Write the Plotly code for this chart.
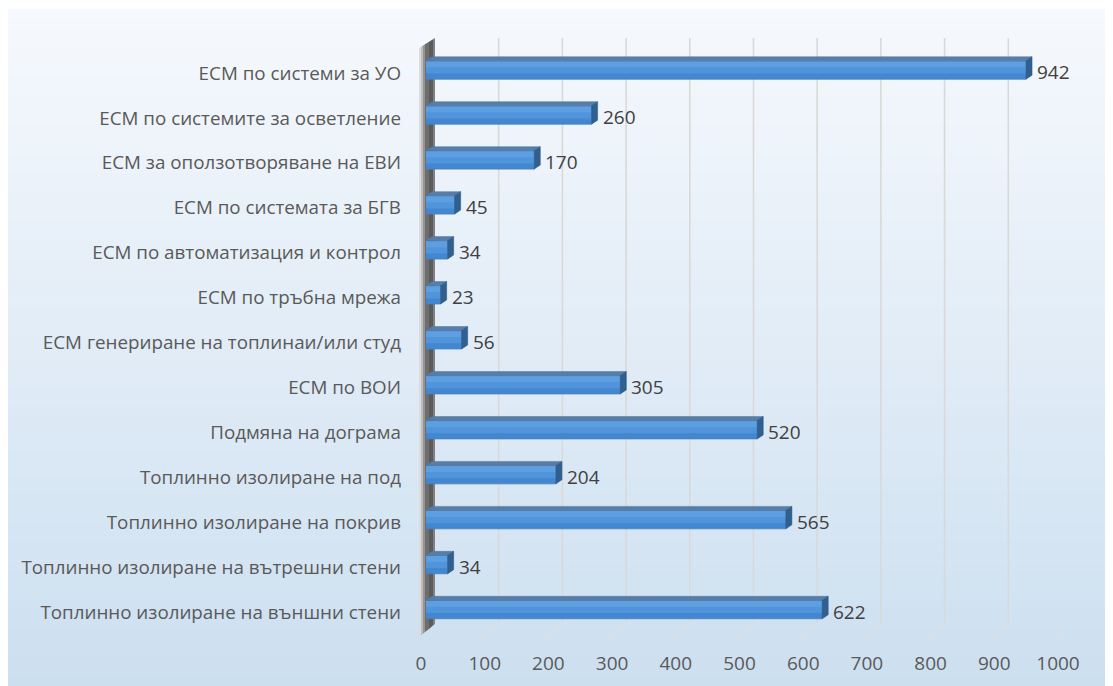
import plotly.graph_objects as go

# ---------------- data ----------------
categories = [
    "Топлинно изолиране на външни стени",
    "Топлинно изолиране на вътрешни стени",
    "Топлинно изолиране на покрив",
    "Топлинно изолиране на под",
    "Подмяна на дограма",
    "ЕСМ по ВОИ",
    "ЕСМ генериране на топлинаи/или студ",
    "ЕСМ по тръбна мрежа",
    "ЕСМ по автоматизация и контрол",
    "ЕСМ по системата за БГВ",
    "ЕСМ за оползотворяване на ЕВИ",
    "ЕСМ по системите за осветление",
    "ЕСМ по системи за УО",
]
values = [622, 34, 565, 204, 520, 305, 56, 23, 34, 45, 170, 260, 942]
x_ticks = [0, 100, 200, 300, 400, 500, 600, 700, 800, 900, 1000]

# ---------------- geometry helpers ----------------
# page body has an 8px margin, so the figure starts at (8, 8) of the window
OFF = 8
W, H = 1113 - OFF, 686 - OFF
def px(x):
    return (x - OFF) / W
def py(y):
    return (H - (y - OFF)) / H

X0_PIX, X1000_PIX = 426, 1063
xscale = (X1000_PIX - X0_PIX) / 1000.0     # px per unit
Y_TOP, Y_BOT = 47.5, 632
yscale = (Y_BOT - Y_TOP) / 13.0            # px per category
half = 0.205                                # half bar thickness (category units)
dx = 6 / xscale                             # 3D depth offset (data units)
dy = 4 / yscale

pos = list(range(len(categories)))

fig = go.Figure()

# front faces (three tone bands give a vertical gradient)
fig.add_trace(go.Bar(
    x=values, y=pos, orientation="h", width=2 * half,
    marker=dict(color="#4387d0", line=dict(color="#4a80bd", width=0.8)),
    hoverinfo="skip", showlegend=False,
))
fig.add_trace(go.Bar(
    x=values, y=pos, orientation="h", width=0.27, offset=-0.08,
    marker=dict(color="#5094dc", line=dict(width=0)),
    hoverinfo="skip", showlegend=False,
))
fig.add_trace(go.Bar(
    x=values, y=pos, orientation="h", width=0.13, offset=0.06,
    marker=dict(color="#5e9fe2", line=dict(width=0)),
    hoverinfo="skip", showlegend=False,
))
fig.update_layout(barmode="overlay")

# top faces and side faces built from the values
top_x, top_y, side_x, side_y = [], [], [], []
for v, c in zip(values, pos):
    top_x += [0, v, v + dx, dx, 0, None]
    top_y += [c + half, c + half, c + half + dy, c + half + dy, c + half, None]
    side_x += [v, v + dx, v + dx, v, v, None]
    side_y += [c - half, c - half + dy, c + half + dy, c + half, c - half, None]

fig.add_trace(go.Scatter(
    x=top_x, y=top_y, mode="lines", fill="toself",
    fillcolor="#587ea8", line=dict(color="#4f74a0", width=0.5),
    hoverinfo="skip", showlegend=False,
))
fig.add_trace(go.Scatter(
    x=side_x, y=side_y, mode="lines", fill="toself",
    fillcolor="#30608f", line=dict(color="#2a5580", width=0.5),
    hoverinfo="skip", showlegend=False,
))

# ---------------- decorations ----------------
shapes = []
# background gradient
top_c = (0xF6, 0xF9, 0xFD)
bot_c = (0xCC, 0xDF, 0xF0)
n = 70
y_start, y_end = 9, 686
for i in range(n):
    t = (i + 0.5) / n
    col = tuple(round(top_c[k] + (bot_c[k] - top_c[k]) * t) for k in range(3))
    ya = y_start + (y_end - y_start) * i / n
    yb = y_start + (y_end - y_start) * (i + 1) / n + 0.6
    shapes.append(dict(type="rect", xref="paper", yref="paper",
                       x0=0, x1=1, y0=max(py(yb), 0), y1=min(py(ya), 1),
                       fillcolor="rgb(%d,%d,%d)" % col, line=dict(width=0),
                       layer="below"))

# left wall (3D) in strips
wall_cols = ["#dcdcdc", "#bdbdbd", "#949494", "#6e6e6e", "#5b5b5b", "#808080"]
wall_edges = [419, 421, 423, 425, 429, 433, 435]
def wall_top(x):
    return 48 + (x - 419) * (38 - 48) / 16.0
def wall_bot(x):
    return 637 + (x - 419) * (624 - 637) / 16.0
for i, colr in enumerate(wall_cols):
    xa, xb = wall_edges[i], wall_edges[i + 1]
    path = "M %f,%f L %f,%f L %f,%f L %f,%f Z" % (
        px(xa), py(wall_top(xa)), px(xb), py(wall_top(xb)),
        px(xb), py(wall_bot(xb)), px(xa), py(wall_bot(xa)))
    shapes.append(dict(type="path", xref="paper", yref="paper", path=path,
                       fillcolor=colr, line=dict(width=0), layer="below"))

# back-wall gridlines + floor diagonals
for t in x_ticks[1:]:
    shapes.append(dict(type="line", xref="x", xsizemode="pixel", xanchor=t,
                       x0=9, x1=9, yref="paper", y0=py(623), y1=py(38),
                       line=dict(color="#d9d9d9", width=1.6), layer="below"))
    shapes.append(dict(type="line", xref="x", xsizemode="pixel", xanchor=t,
                       x0=9, x1=-7, yref="paper", y0=py(623), y1=py(637),
                       line=dict(color="#dedede", width=1.6), layer="below"))

# data labels
annotations = []
for v, c in zip(values, pos):
    annotations.append(dict(x=v, y=c, xref="x", yref="y", text=str(v),
                            showarrow=False, xanchor="left", yanchor="middle",
                            xshift=9, yshift=-2,
                            font=dict(family="Open Sans", size=19, color="#404040")))

fig.update_layout(
    width=W, height=H,
    margin=dict(l=0, r=0, t=0, b=0),
    paper_bgcolor="white", plot_bgcolor="rgba(0,0,0,0)",
    shapes=shapes, annotations=annotations,
    showlegend=False,
    font=dict(family="Open Sans", size=19, color="#595959"),
    xaxis=dict(domain=[px(X0_PIX), px(X1000_PIX)], range=[0, 1000],
               tickvals=x_ticks, ticktext=[str(t) for t in x_ticks],
               tickfont=dict(size=19),
               showgrid=False, zeroline=False, showline=False,
               ticks="", ticklabelstandoff=18, ticklabelshift=-5,
               automargin=False, fixedrange=True),
    yaxis=dict(domain=[py(Y_BOT), py(Y_TOP)], range=[-0.5, 12.5],
               tickvals=pos, ticktext=categories,
               tickfont=dict(size=18.8),
               showgrid=False, zeroline=False, showline=False,
               ticks="", ticklabelstandoff=24, ticklabelshift=3,
               automargin=False, fixedrange=True),
)

fig.write_html("out.html", config={"displayModeBar": False})
